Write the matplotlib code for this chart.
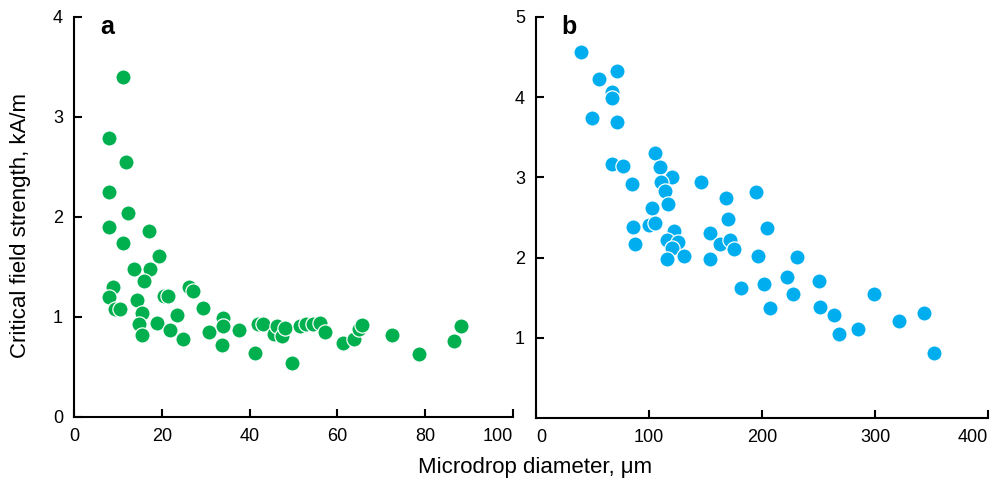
import numpy as np
import matplotlib
matplotlib.use('Agg')
import matplotlib.pyplot as plt

plt.rcParams['font.family'] = ['Liberation Sans', 'DejaVu Sans']

# Panel a: microdrop diameter (um) vs critical field strength (kA/m)
a_diam = [11.2, 8.0, 11.8, 8.0, 12.3, 8.0, 11.2, 17.1, 19.4, 13.7, 17.3, 15.9,
          8.8, 8.0, 9.3, 10.5, 14.4, 15.5, 14.8, 15.5, 18.9, 20.5, 21.4, 23.5,
          21.9, 24.8, 26.2, 27.1, 29.4, 30.8, 33.9, 33.9, 33.7, 37.6, 41.2,
          41.9, 43.1, 45.6, 46.2, 47.4, 48.1, 49.7, 51.5, 52.8, 54.5, 56.0,
          57.2, 61.3, 63.8, 64.9, 65.6, 72.4, 78.6, 86.6, 88.2]
a_field = [3.40, 2.79, 2.55, 2.25, 2.04, 1.90, 1.74, 1.86, 1.61, 1.48, 1.48, 1.36,
           1.30, 1.20, 1.08, 1.08, 1.17, 1.04, 0.93, 0.82, 0.94, 1.21, 1.21, 1.02,
           0.87, 0.78, 1.30, 1.26, 1.09, 0.85, 0.99, 0.91, 0.72, 0.87, 0.64,
           0.93, 0.93, 0.83, 0.91, 0.81, 0.89, 0.54, 0.91, 0.93, 0.93, 0.94,
           0.85, 0.74, 0.78, 0.88, 0.92, 0.82, 0.63, 0.76, 0.91]

# Panel b
b_diam = [39.7, 55.6, 71.5, 67, 67, 49.4, 71.5, 67, 76.8, 84.8, 105, 109.5,
          120, 111, 114, 117, 146, 103, 168, 169.5, 85.6, 100, 105, 87.4, 122,
          115.7, 126, 120, 115.7, 130.7, 153.6, 162.5, 172, 175, 153.6, 181,
          195, 204, 196, 231, 202, 222.5, 227, 207.5, 250.8, 251.7, 263.4,
          267.8, 285.2, 298.8, 321.4, 342.9, 352.6]
b_field = [4.56, 4.23, 4.33, 4.06, 3.99, 3.74, 3.69, 3.17, 3.14, 2.92, 3.30, 3.13,
           3.00, 2.94, 2.83, 2.67, 2.94, 2.62, 2.74, 2.48, 2.38, 2.41, 2.43, 2.17,
           2.33, 2.22, 2.19, 2.12, 1.98, 2.02, 2.31, 2.17, 2.22, 2.11, 1.98, 1.62,
           2.82, 2.37, 2.02, 2.01, 1.67, 1.76, 1.55, 1.37, 1.71, 1.38, 1.28,
           1.05, 1.11, 1.55, 1.21, 1.31, 0.81]

a_xticks = [0, 20, 40, 60, 80, 100]
a_yticks = [0, 1, 2, 3, 4]
b_xticks = [0, 100, 200, 300, 400]
b_yticks = [1, 2, 3, 4, 5]

green = '#00B04F'
blue = '#00AEEF'

fig = plt.figure(figsize=(9.95, 4.82), dpi=100)
axa = fig.add_axes([0.0744, 0.1349, 0.4412, 0.8299])
axb = fig.add_axes([0.5387, 0.1328, 0.4543, 0.8320])

axa.scatter(a_diam, a_field, s=120, c=green, edgecolors='white', linewidths=0.9,
            zorder=3, clip_on=False)
axb.scatter(b_diam, b_field, s=120, c=blue, edgecolors='white', linewidths=0.9,
            zorder=3, clip_on=False)

axa.set_xlim(0, 100)
axa.set_ylim(0, 4)
axa.set_xticks(a_xticks)
axa.set_yticks(a_yticks)
axb.set_xlim(0, 400)
axb.set_ylim(0, 5)
axb.set_xticks(b_xticks)
axb.set_yticks(b_yticks)

for ax in (axa, axb):
    for side in ('top', 'right'):
        ax.spines[side].set_visible(False)
    for side in ('left', 'bottom'):
        ax.spines[side].set_linewidth(1.5)
    ax.tick_params(direction='in', length=6, width=1.5, labelsize=13, pad=8)

# end labels sit inside the axis ends, as in the original
xa_labels = axa.get_xticklabels()
xa_labels[-1].set_ha('right')
xb_labels = axb.get_xticklabels()
xb_labels[0].set_ha('left')
xb_labels[-1].set_ha('right')

axa.text(0.075, 0.975, 'a', transform=axa.transAxes, fontsize=18,
         fontweight='bold', va='center', ha='center')
axb.text(0.073, 0.975, 'b', transform=axb.transAxes, fontsize=18,
         fontweight='bold', va='center', ha='center')

fig.text(0.021, 0.533, 'Critical field strength, kA/m', rotation=90,
         ha='center', va='center', fontsize=16)
fig.text(0.538, 0.03, 'Microdrop diameter, \u03bcm', ha='center', va='center',
         fontsize=16)

fig.savefig('out.png', dpi=100)
